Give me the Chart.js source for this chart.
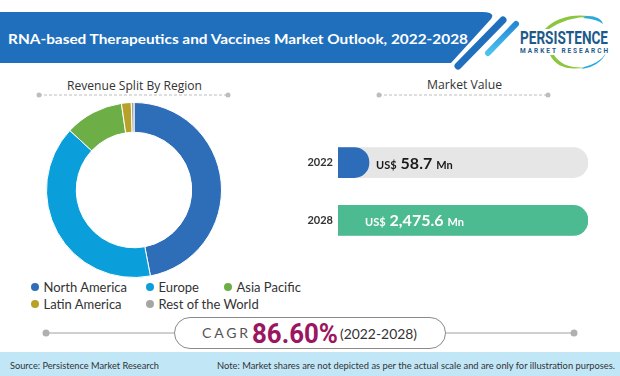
<!DOCTYPE html>
<html>
<head>
<meta charset="utf-8">
<script src="https://cdn.jsdelivr.net/npm/chart.js@4.4.1/dist/chart.umd.min.js"></script>
<style>
html, body { margin: 0; padding: 0; background: #fff; }
#page { position: relative; width: 620px; height: 376px; overflow: hidden; }
#deco { position: absolute; left: 0; top: 0; }
#pie { position: absolute; left: 46px; top: 102px; }
#bars { position: absolute; left: 298px; top: 122px; }
</style>
</head>
<body>
<div id="page">
<svg id="deco" width="620" height="376" xmlns="http://www.w3.org/2000/svg">
  <defs>
    <linearGradient id="slash2" x1="0" y1="0" x2="0" y2="1">
      <stop offset="0" stop-color="#2489d6"/>
      <stop offset="1" stop-color="#4cc3ef"/>
    </linearGradient>
  </defs>
  <!-- header band -->
  <path d="M0 12 L482 12 Q496 12 491 19 L451 63 L0 63 Z" fill="#1f6fbc"/>
  <line x1="503" y1="20" x2="458" y2="66" stroke="#1f6fbc" stroke-width="7" stroke-linecap="round"/>
  <line x1="516" y1="24" x2="488" y2="53" stroke="url(#slash2)" stroke-width="6" stroke-linecap="round"/>
  <text x="8" y="44" fill="#fff" font-family="Lato" font-weight="bold" font-size="14" textLength="460" lengthAdjust="spacingAndGlyphs">RNA-based Therapeutics and Vaccines Market Outlook, 2022-2028</text>

  <!-- logo -->
  <path d="M545 29 Q562 11 597 17 Q570 15 549 29 Z" fill="#8cc63f"/>
  <path d="M586 16 Q601 16 603 24 Q597 19 583 18 Z" fill="#29a9e0"/>
  <path d="M550 55 Q559 73 588 67 Q564 70 554 55 Z" fill="#8cc63f"/>
  <path d="M584 67 Q600 63 606 53 Q600 66 582 69 Z" fill="#29a9e0"/>
  <text x="520" y="44" fill="#1e5b8a" font-family="Roboto" font-weight="bold" font-size="19" textLength="88" lengthAdjust="spacingAndGlyphs">PERSISTENCE</text>
  <text x="520" y="52.5" fill="#1e5b8a" font-family="Roboto" font-weight="bold" font-size="6.5" textLength="88" lengthAdjust="spacing">MARKET RESEARCH</text>

  <!-- section titles -->
  <text x="67" y="90" fill="#333" font-family="Open Sans" font-size="12.5" textLength="135" lengthAdjust="spacingAndGlyphs">Revenue Split By Region</text>
  <line x1="39" y1="95" x2="228" y2="95" stroke="#bdbdbd" stroke-width="1" stroke-dasharray="3 2"/>
  <circle cx="39" cy="95" r="2.5" fill="#bdbdbd"/><circle cx="228" cy="95" r="2.5" fill="#bdbdbd"/>
  <text x="427" y="89" fill="#333" font-family="Open Sans" font-size="12.5" textLength="75" lengthAdjust="spacingAndGlyphs">Market Value</text>
  <line x1="379" y1="95" x2="548" y2="95" stroke="#bdbdbd" stroke-width="1" stroke-dasharray="3 2"/>
  <circle cx="379" cy="95" r="2.5" fill="#bdbdbd"/><circle cx="548" cy="95" r="2.5" fill="#bdbdbd"/>

  <g id="legend"></g>

  <!-- CAGR -->
  <line x1="46" y1="333" x2="174" y2="333" stroke="#a0a0a0" stroke-width="1"/>
  <line x1="446" y1="333" x2="574" y2="333" stroke="#a0a0a0" stroke-width="1"/>
  <circle cx="46" cy="333" r="3.5" fill="#b0b0b0"/><circle cx="574" cy="333" r="3.5" fill="#b0b0b0"/>
  <rect x="174.5" y="317.5" width="271" height="31" rx="15.5" fill="#fff" stroke="#8a8a8a" stroke-width="1"/>
  <text id="cagrLabel" x="202" y="338" fill="#555" font-family="Lato" font-size="14" textLength="46" lengthAdjust="spacing">CAGR</text>
  <text id="cagrValue" x="252" y="343" fill="#9b1660" font-family="Roboto" font-weight="bold" font-size="28" textLength="86" lengthAdjust="spacingAndGlyphs"></text>
  <text id="cagrYears" x="340" y="339" fill="#333" font-family="Lato" font-size="14" textLength="77" lengthAdjust="spacingAndGlyphs"></text>

  <!-- footer -->
  <rect x="0" y="352" width="620" height="24" fill="#c1e7f7"/>
  <text x="10" y="369" fill="#333" font-family="Lato" font-size="9.5" textLength="149" lengthAdjust="spacingAndGlyphs">Source: Persistence Market Research</text>
  <text x="217" y="369" fill="#333" font-family="Lato" font-size="9.5" textLength="398" lengthAdjust="spacingAndGlyphs">Note: Market shares are not depicted as per the actual scale and are only for illustration purposes.</text>
</svg>
<canvas id="pie" width="176" height="176"></canvas>
<canvas id="bars" width="290" height="139"></canvas>
</div>
<script>
// revenue split by region (% share)
const regions = ['North America', 'Europe', 'Asia Pacific', 'Latin America', 'Rest of the World'];
const regionShare = [47.0, 39.9, 10.8, 1.8, 0.5];
const regionColors = ['#2e6eb9', '#0a9fda', '#6daf46', '#b8a128', '#a5a5a5'];

// market value, US$ Mn
const years = ['2022', '2028'];
const marketValue = [58.7, 2475.6];
// bar length as drawn in the picture (not to scale), % of the track
const barShare = [12.4, 100];
const barColors = ['#2d6cb8', '#4dbb91'];

const cagr = '86.60%';
const cagrPeriod = '(2022-2028)';

document.getElementById('cagrValue').textContent = cagr;
document.getElementById('cagrYears').textContent = cagrPeriod;

// legend, 3 columns
var svgNS = 'http://www.w3.org/2000/svg';
var lg = document.getElementById('legend');
var colX = [35, 150, 228];
var rowY = [287, 304];
regions.forEach(function (name, i) {
    var cx = colX[i % 3], cy = rowY[Math.floor(i / 3)];
    var c = document.createElementNS(svgNS, 'circle');
    c.setAttribute('cx', cx); c.setAttribute('cy', cy); c.setAttribute('r', 4);
    c.setAttribute('fill', regionColors[i]);
    lg.appendChild(c);
    var t = document.createElementNS(svgNS, 'text');
    t.setAttribute('x', cx + 8.5); t.setAttribute('y', cy + 4.5);
    t.setAttribute('fill', '#333');
    t.setAttribute('font-family', 'Lato');
    t.setAttribute('font-size', '13');
    t.textContent = name;
    lg.appendChild(t);
});

new Chart(document.getElementById('pie'), {
    type: 'doughnut',
    data: {
        labels: regions,
        datasets: [{
            data: regionShare,
            backgroundColor: regionColors,
            borderColor: '#fff',
            borderWidth: 1
        }]
    },
    options: {
        responsive: false,
        animation: false,
        cutout: '66%',
        plugins: { legend: { display: false }, tooltip: { enabled: false } }
    }
});

// "US$ 58.7 Mn" labels inside the bars
var valueLabels = {
    id: 'valueLabels',
    afterDatasetsDraw: function (chart) {
        var ctx = chart.ctx;
        var meta = chart.getDatasetMeta(0);
        meta.data.forEach(function (bar, i) {
            var x = i === 0 ? bar.x + 7 : chart.chartArea.left + 27;
            var y = bar.y + 6;
            ctx.save();
            ctx.fillStyle = i === 0 ? '#1a1a1a' : '#fff';
            ctx.textBaseline = 'alphabetic';
            ctx.font = 'bold 11px Lato';
            ctx.fillText('US$', x, y);
            x += ctx.measureText('US$').width + 4;
            var v = marketValue[i].toLocaleString('en-US', { minimumFractionDigits: 1 });
            ctx.font = 'bold 16px Lato';
            ctx.fillText(v, x, y);
            x += ctx.measureText(v).width + 4;
            ctx.font = 'bold 11px Lato';
            ctx.fillText('Mn', x, y);
            ctx.restore();
        });
    }
};

new Chart(document.getElementById('bars'), {
    type: 'bar',
    data: {
        labels: years,
        datasets: [
            { data: barShare, backgroundColor: barColors, borderRadius: 15, barThickness: 30, grouped: false },
            { data: years.map(function () { return 100; }), backgroundColor: '#e6e6e6', borderRadius: 15, barThickness: 30, grouped: false }
        ]
    },
    options: {
        indexAxis: 'y',
        responsive: false,
        animation: false,
        layout: { padding: 0 },
        plugins: { legend: { display: false }, tooltip: { enabled: false } },
        scales: {
            x: { display: false, min: 0, max: 100 },
            y: {
                grid: { display: false, drawTicks: false },
                border: { display: false },
                ticks: { color: '#333', padding: 5, font: { family: 'Lato', weight: 'bold', size: 11 } },
                afterFit: function (s) { s.width = 40; }
            }
        }
    },
    plugins: [valueLabels]
});
</script>
</body>
</html>
